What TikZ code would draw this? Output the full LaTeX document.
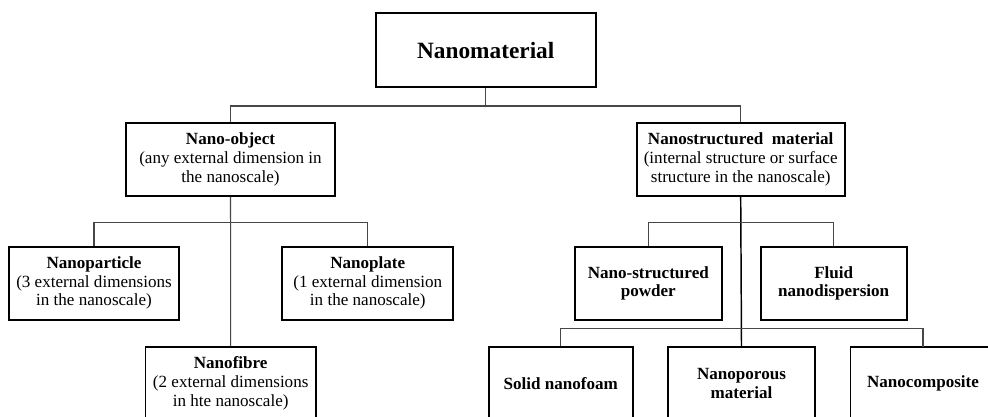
\documentclass[tikz,border=0pt]{standalone}
\usepackage{fontspec}
\setmainfont{Liberation Serif}
\begin{document}
\begin{tikzpicture}[x=0.75pt,y=-0.75pt,
  box/.style={draw=black,line width=1.3pt,fill=white,align=center,inner sep=0pt,
    minimum height=55pt,font=\fontsize{12.8}{13.9}\selectfont},
  boldbox/.style={box,font=\fontsize{12.8}{13.9}\selectfont\bfseries},
  link/.style={draw=black!72,line width=0.8pt},
  spine/.style={draw=black,line width=1.1pt}]
\path[use as bounding box,clip] (0,0) rectangle (988,417);
\fill[white] (0,0) rectangle (988,417);

% top level
\node[box,minimum width=165pt,minimum height=55.5pt,font=\fontsize{17.5}{19}\selectfont\bfseries]
  (top) at (485.7,50.3) {Nanomaterial};

% second level
\node[box,minimum width=156.75pt] (obj) at (230.5,159.4)
  {\textbf{Nano-object}\\(any external dimension in\\the nanoscale)};
\node[box,minimum width=156pt] (struct) at (740.7,159.4)
  {\textbf{Nanostructured\ \ material}\\(internal structure or surface\\structure in the nanoscale)};

% nano-objects
\node[box,minimum width=128pt] (particle) at (94,283.3)
  {\textbf{Nanoparticle}\\(3 external dimensions\\in the nanoscale)};
\node[box,minimum width=128.25pt] (plate) at (367.8,283.3)
  {\textbf{Nanoplate}\\(1 external dimension\\in the nanoscale)};
\node[box,minimum width=128pt] (fibre) at (230.7,383.3)
  {\textbf{Nanofibre}\\(2 external dimensions\\in hte nanoscale)};

% nanostructured materials
\node[boldbox,minimum width=110pt] (powder) at (648.3,283.3) {Nano-structured\\powder};
\node[boldbox,minimum width=109.5pt] (fluid) at (833.7,283.3) {Fluid\\nanodispersion};
\node[boldbox,minimum width=108pt] (foam) at (560.7,383.3) {Solid nanofoam};
\node[boldbox,minimum width=110pt] (porous) at (741.5,383.3) {Nanoporous\\material};
\node[boldbox,minimum width=110pt,anchor=west] (composite) at (849.5,383.3) {};
\node[font=\fontsize{12.8}{13.9}\selectfont\bfseries,inner sep=0pt] (compositeText) at (923,383.3) {Nanocomposite};

% branch points
\coordinate (busTop) at (485.7,106);
\coordinate (busL) at (230.7,222.3);
\coordinate (busR1) at (741.2,222.3);
\coordinate (busR2) at (741.2,328.3);
\coordinate (compositeTop) at (923,346.7);

% connectors
\draw[link] (top.south) -- (busTop);
\draw[link] (obj.north) |- (busTop) -| (struct.north);
\draw[link] (obj.south) -- (fibre.north);
\draw[link] (particle.north) |- (busL) -| (plate.north);
\draw[spine] (struct.south) -- (porous.north);
\draw[link] (powder.north) |- (busR1) -| (fluid.north);
\draw[link] (foam.north) |- (busR2) -| (compositeTop);
\end{tikzpicture}
\end{document}
